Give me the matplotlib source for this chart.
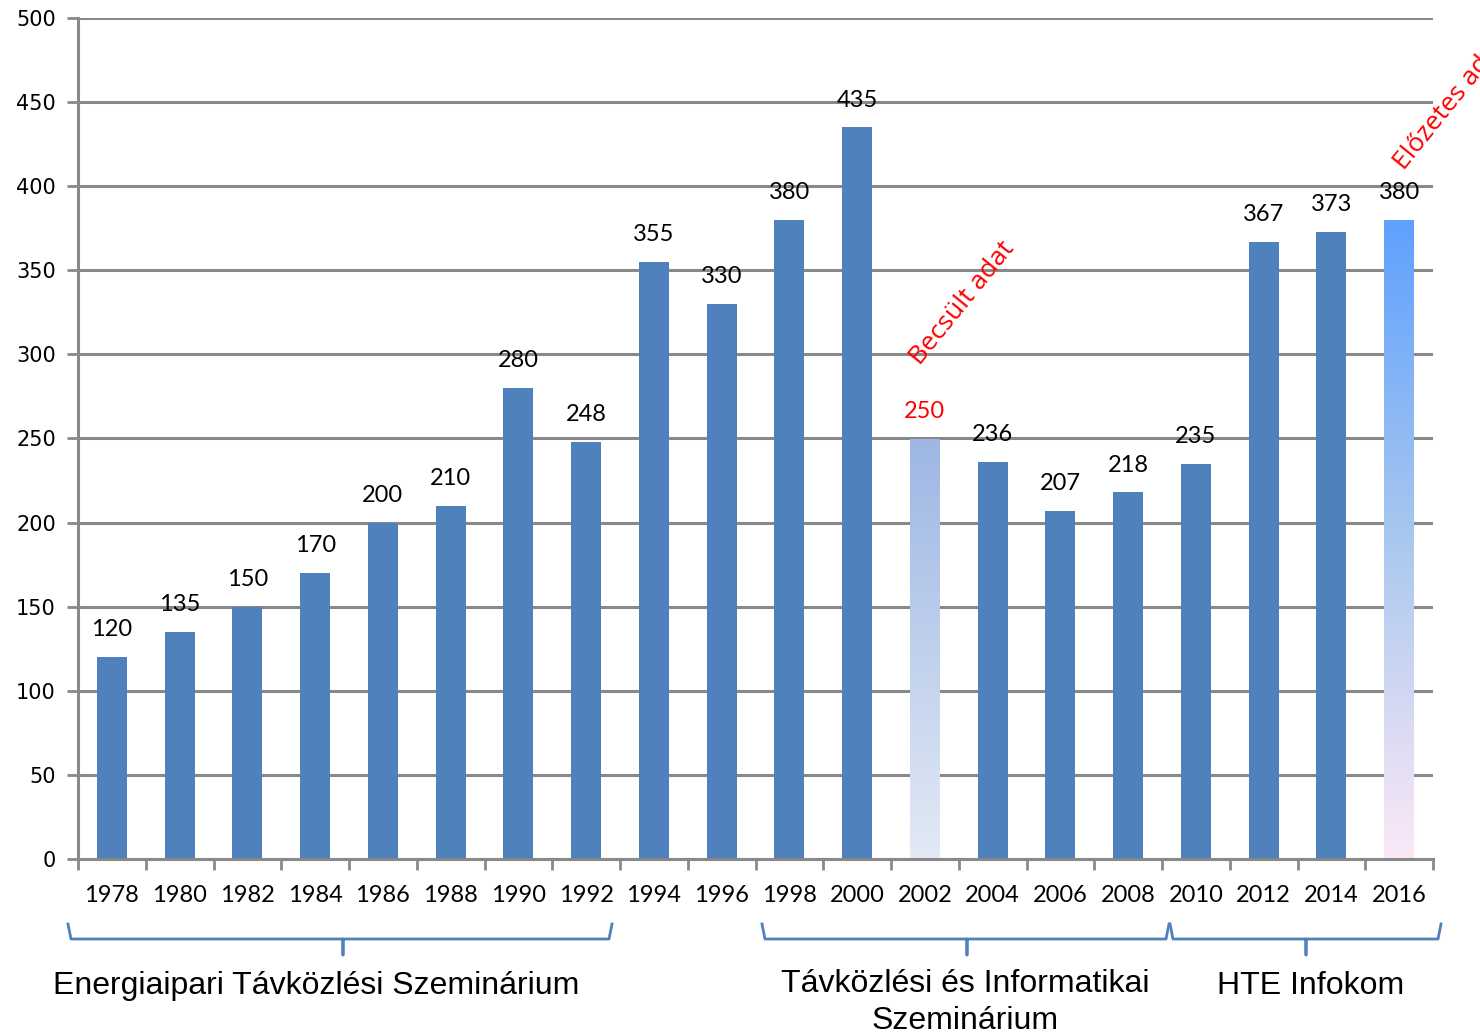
import numpy as np
import matplotlib
matplotlib.use("Agg")
import matplotlib.pyplot as plt
from matplotlib.colors import LinearSegmentedColormap
from matplotlib.lines import Line2D

years = [1978, 1980, 1982, 1984, 1986, 1988, 1990, 1992, 1994, 1996,
         1998, 2000, 2002, 2004, 2006, 2008, 2010, 2012, 2014, 2016]
values = [120, 135, 150, 170, 200, 210, 280, 248, 355, 330,
          380, 435, 250, 236, 207, 218, 235, 367, 373, 380]
estimated = [2002]
preliminary = [2016]
groups = ["Energiaipari Távközlési Szeminárium",
          "Távközlési és Informatikai\nSzeminárium",
          "HTE Infokom"]

W, H = 1480, 1035
fig = plt.figure(figsize=(W / 100, H / 100), dpi=100)
ax = fig.add_axes([78 / W, (H - 859) / H, 1355 / W, 841 / H])

grid_c = "#898989"
bar_c = "#4F81BD"
num_font = "Lato"

x = np.arange(len(years))
bw = 0.44
bars = ax.bar(x, values, width=bw, color=bar_c, zorder=2)

cm_est = LinearSegmentedColormap.from_list("est", ["#E3EAF5", "#9DB6E4"])
cm_pre = LinearSegmentedColormap.from_list("pre", ["#FCE8F7", "#A9C8EE", "#5FA0FF"])
grad = np.linspace(0, 1, 256).reshape(-1, 1)
for yr, cmap in [(estimated[0], cm_est), (preliminary[0], cm_pre)]:
    i = years.index(yr)
    b = bars[i]
    b.set_facecolor("none")
    img = ax.imshow(grad, extent=[b.get_x(), b.get_x() + bw, 0, values[i]],
                    origin="lower", cmap=cmap, aspect="auto", zorder=2)
    img.set_clip_path(b)

for i, v in enumerate(values):
    col = "red" if years[i] in estimated else "black"
    ax.text(x[i], v + 10, str(v), ha="center", va="bottom", fontsize=17,
            family=num_font, color=col, zorder=3)

ax.set_xlim(-0.5, len(years) - 0.5)
ax.set_ylim(0, 500)
ax.set_yticks(np.arange(0, 501, 50))
ax.set_yticklabels([str(t) for t in range(0, 501, 50)], fontsize=15, family="DejaVu Sans")
ax.yaxis.grid(True, color=grid_c, linewidth=2.2)
ax.set_axisbelow(True)

ax.set_xticks(np.arange(-0.5, len(years), 1))
ax.set_xticklabels([])
ax.set_xticks(x, minor=True)
ax.set_xticklabels([str(y) for y in years], minor=True, fontsize=17, family=num_font)
ax.tick_params(axis="x", which="minor", length=0, pad=19)
ax.tick_params(axis="x", which="major", length=8, width=2, color=grid_c, direction="out")
ax.tick_params(axis="y", length=8, width=2, color=grid_c, direction="out", pad=8)

for s in ["top", "right"]:
    ax.spines[s].set_visible(False)
for s in ["left", "bottom"]:
    ax.spines[s].set_color(grid_c)
    ax.spines[s].set_linewidth(2.2)

# rotated red notes
ax.text(years.index(2002) + 0.0, 291, "Becsült adat", rotation=51, color="red",
        fontsize=19, family="Open Sans", ha="left", va="bottom", rotation_mode="anchor")
ax.text(years.index(2016) + 0.14, 407, "Előzetes adat", rotation=51, color="red",
        fontsize=19, family="Open Sans", ha="left", va="bottom", rotation_mode="anchor",
        clip_on=False)

# braces under the axis (figure pixel coords)
brace_c = "#4F81BD"
def brace(x0, x1, xc):
    yt, ym, yb = H - 924, H - 939, H - 955
    pts_x = [x0, x0 + 3, xc - 2, xc, xc, xc, xc + 2, x1 - 3, x1]
    pts_y = [yt, ym, ym, ym, yb, ym, ym, ym, yt]
    fig.add_artist(Line2D(np.array(pts_x) / W, np.array(pts_y) / H,
                          color=brace_c, linewidth=2))

brace(68, 612, 343)
brace(762, 1169, 967)
brace(1170, 1441, 1306)

fig.text(316 / W, (H - 986) / H, groups[0], ha="center", va="center",
         fontsize=23, family="Liberation Sans")
fig.text(965 / W, (H - 969) / H, groups[1], ha="center", va="top",
         fontsize=23, family="Liberation Sans", linespacing=1.3)
fig.text(1311 / W, (H - 986) / H, groups[2], ha="center", va="center",
         fontsize=23, family="Liberation Sans")

fig.savefig("out.png", dpi=100)
